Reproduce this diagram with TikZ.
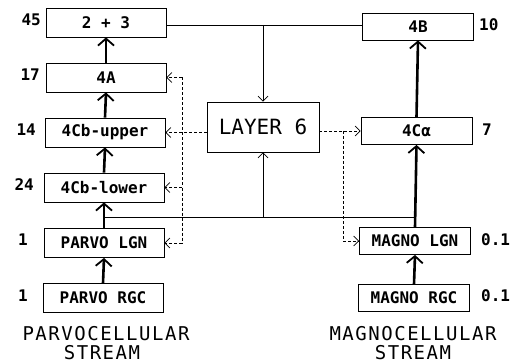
\documentclass[tikz,border=0pt]{standalone}
\usepackage{fontspec}
\setmainfont{DejaVu Sans Mono}[BoldFont={DejaVu Sans Mono Bold}]
\newfontfamily\capfont{DejaVu Sans Mono}[LetterSpace=8]
\usetikzlibrary{arrows.meta}
\begin{document}
\begin{tikzpicture}[x=1pt,y=-1pt,
  box/.style={draw,line width=0.8pt,minimum height=29pt,inner sep=0pt,font=\fontsize{16}{18}\bfseries},
  lbox/.style={box,minimum width=120pt},
  rbox/.style={box,minimum width=111pt,minimum height=27pt},
  num/.style={font=\fontsize{16}{18}\bfseries,inner sep=0pt},
  captext/.style={font=\fontsize{19}{22}\capfont,inner sep=0pt,anchor=base},
  thickarr/.style={line width=2.6pt,-{Straight Barb[length=7pt,width=16pt,line width=1.8pt]}},
  thinarr/.style={line width=0.7pt,-{Straight Barb[length=5pt,width=10pt]}},
  thinline/.style={line width=0.7pt},
  dasharr/.style={line width=0.7pt,dash pattern=on 3pt off 2pt,-{Straight Barb[length=5pt,width=10pt]}},
  dashline/.style={line width=0.7pt,dash pattern=on 3pt off 2pt}]
\useasboundingbox (0,0) rectangle (518,363);
% left column
\node[lbox] (b23) at (106,22.5) {2 + 3};
\node[lbox] (b4a) at (106,77.5) {4A};
\node[lbox] (bcu) at (105,132.5) {4Cb-upper};
\node[lbox] (bcl) at (104,187.5) {4Cb-lower};
\node[lbox] (plgn) at (104,243) {PARVO LGN};
\node[lbox] (prgc) at (103,298) {PARVO RGC};
% right column
\node[rbox] (b4b) at (418,26.5) {4B};
\node[rbox] (bca) at (416.5,131) {4Cα};
\node[rbox] (mlgn) at (415,241) {MAGNO LGN};
\node[rbox] (mrgc) at (414,298) {MAGNO RGC};
% layer 6
\node[draw,line width=0.8pt,minimum width=112pt,minimum height=50pt,inner sep=0pt,font=\fontsize{21}{24}\selectfont] (l6) at (263,127) {LAYER 6};
% numbers
\node[num,anchor=east] (n45) at (41,20) {45};
\node[num,anchor=east] (n17) at (40,75) {17};
\node[num,anchor=east] (n14) at (36,130) {14};
\node[num,anchor=east] (n24) at (34,185) {24};
\node[num,anchor=east] (n1a) at (28,240) {1};
\node[num,anchor=east] (n1b) at (28,296) {1};
\node[num,anchor=west] (n10) at (479,25) {10};
\node[num,anchor=west] (n7) at (482,130) {7};
\node[num,anchor=west] (n01a) at (481,240) {0.1};
\node[num,anchor=west] (n01b) at (481,296) {0.1};
% captions
\node[captext] (pc1) at (106,340) {PARVOCELLULAR};
\node[captext] (pc2) at (102,359) {STREAM};
\node[captext] (mc1) at (413,340) {MAGNOCELLULAR};
\node[captext] (mc2) at (413,359) {STREAM};
% thick arrows
\draw[thickarr] (prgc.north) -- (plgn.south);
\draw[thickarr] (plgn.north) -- (bcl.south);
\draw[thickarr] (bcl.north) -- (bcu.south);
\draw[thickarr] (bcu.north) -- (b4a.south);
\draw[thickarr] (b4a.north) -- (b23.south);
\draw[thickarr] (mrgc.north) -- (mlgn.south);
\draw[thickarr] (mlgn.north) -- (bca.south);
\draw[thickarr] (bca.north) -- (b4b.south);
% thin lines
\coordinate (tl) at (0,25);
\draw[thinline] (b23.east |- tl) -- (b4b.west |- tl);
\draw[thinarr] (l6.north |- tl) -- (l6.north);
\coordinate (bl) at (0,217);
\draw[thinline] (plgn.north |- bl) -- (mlgn.north |- bl);
\draw[thinarr] (l6.south |- bl) -- (l6.south);
% dashed feedback left
\coordinate (dl) at (182,132.5);
\draw[dasharr] (l6.west |- bcu.east) -- (bcu.east);
\draw[dashline] (dl |- b4a.east) -- (dl |- plgn.east);
\draw[dasharr] (dl |- b4a.east) -- (b4a.east);
\draw[dasharr] (dl |- bcl.east) -- (bcl.east);
\draw[dasharr] (dl |- plgn.east) -- (plgn.east);
% dashed feedback right
\coordinate (dr) at (343,132);
\draw[dasharr] (l6.east |- bca.west) -- (bca.west);
\draw[dashline] (dr |- bca.west) -- (dr |- mlgn.west);
\draw[dasharr] (dr |- mlgn.west) -- (mlgn.west);
\end{tikzpicture}
\end{document}
